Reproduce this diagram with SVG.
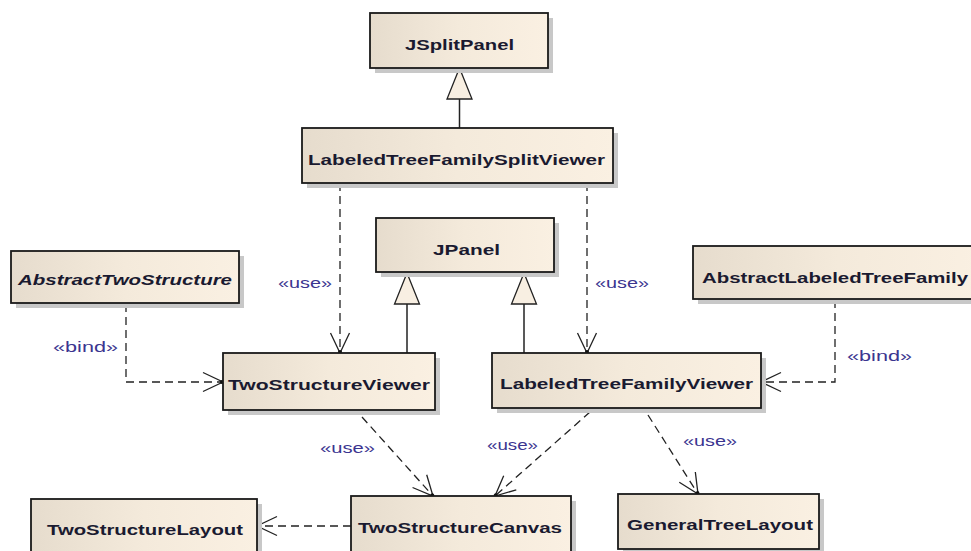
<svg xmlns="http://www.w3.org/2000/svg" width="971" height="551" viewBox="0 0 971 551">
<defs>
<linearGradient id="g" x1="0" y1="0" x2="1" y2="0">
<stop offset="0" stop-color="#e6dccd"/>
<stop offset="0.5" stop-color="#f4eadb"/>
<stop offset="1" stop-color="#faf0e2"/>
</linearGradient>
<marker id="open" markerUnits="userSpaceOnUse" markerWidth="24" markerHeight="24" refX="20" refY="10" orient="auto" overflow="visible">
<path d="M0,0.5 L20,10 L0,19.5" fill="none" stroke="#222" stroke-width="1.3"/>
<circle cx="19" cy="10" r="2" fill="#111"/>
</marker>
<marker id="gen" markerUnits="userSpaceOnUse" markerWidth="34" markerHeight="28" refX="31" refY="13" orient="auto" overflow="visible">
<path d="M31,13 L0,0.5 L0,25.5 Z" fill="#f8efe2" stroke="#222" stroke-width="1.3"/>
</marker>
</defs>
<style>
.sh{fill:#c8c8c8}
.bx{fill:url(#g);stroke:#1a1a1a;stroke-width:1.8}
.t{font-family:"Liberation Sans",Arial,sans-serif;font-weight:bold;font-size:14px;fill:#1a1a30;text-anchor:middle}
.it{font-style:italic}
.lb{font-family:"Liberation Sans",Arial,sans-serif;font-size:14px;fill:#3b3590}
.dep{fill:none;stroke:#222;stroke-width:1.3;stroke-dasharray:8,5;marker-end:url(#open)}
.gl{fill:none;stroke:#222;stroke-width:1.5;marker-end:url(#gen)}
</style>

<g id="connectors">
<path class="gl" d="M459.5,128 L459.5,68"/>
<path class="gl" d="M407,353 L407,273"/>
<path class="gl" d="M524,353 L524,273"/>
<path class="dep" d="M340,183 L340,353"/>
<path class="dep" d="M587,183 L587,353"/>
<path class="dep" d="M126,304 L126,382 L223,382"/>
<path class="dep" d="M835,300 L835,382 L761,382"/>
<path class="dep" d="M362,417 L433,496"/>
<path class="dep" d="M590,412 L495,496"/>
<path class="dep" d="M648,415 L698,494"/>
<path class="dep" d="M351,526 L257,526"/>
<text class="lb" x="278" y="288" textLength="54" lengthAdjust="spacingAndGlyphs">«use»</text>
<text class="lb" x="595" y="288" textLength="54" lengthAdjust="spacingAndGlyphs">«use»</text>
<text class="lb" x="53" y="352" textLength="65" lengthAdjust="spacingAndGlyphs">«bind»</text>
<text class="lb" x="847" y="361" textLength="65" lengthAdjust="spacingAndGlyphs">«bind»</text>
<text class="lb" x="320" y="453" textLength="55" lengthAdjust="spacingAndGlyphs">«use»</text>
<text class="lb" x="487" y="450" textLength="51" lengthAdjust="spacingAndGlyphs">«use»</text>
<text class="lb" x="683" y="446" textLength="54" lengthAdjust="spacingAndGlyphs">«use»</text>
</g>

<g id="JSplitPanel">
<rect class="sh" x="375" y="18" width="178" height="55"/>
<rect class="bx" x="370" y="13" width="178" height="55"/>
<text class="t" x="459.5" y="50" textLength="109" lengthAdjust="spacingAndGlyphs">JSplitPanel</text>
</g>

<g id="LabeledTreeFamilySplitViewer">
<rect class="sh" x="307" y="133" width="311" height="55"/>
<rect class="bx" x="302" y="128" width="311" height="55"/>
<text class="t" x="456.5" y="165" textLength="297" lengthAdjust="spacingAndGlyphs">LabeledTreeFamilySplitViewer</text>
</g>

<g id="JPanel">
<rect class="sh" x="381" y="223" width="178" height="54"/>
<rect class="bx" x="376" y="218" width="178" height="54"/>
<text class="t" x="466.5" y="255" textLength="67" lengthAdjust="spacingAndGlyphs">JPanel</text>
</g>

<g id="AbstractTwoStructure">
<rect class="sh" x="16" y="256" width="228" height="52"/>
<rect class="bx" x="11" y="251" width="228" height="52"/>
<text class="t it" x="125" y="285" textLength="214" lengthAdjust="spacingAndGlyphs">AbstractTwoStructure</text>
</g>

<g id="AbstractLabeledTreeFamily">
<rect class="sh" x="698" y="251" width="290" height="53"/>
<rect class="bx" x="693" y="246" width="290" height="53"/>
<text class="t" x="835" y="283" textLength="266" lengthAdjust="spacingAndGlyphs">AbstractLabeledTreeFamily</text>
</g>

<g id="TwoStructureViewer">
<rect class="sh" x="228" y="358" width="212" height="57"/>
<rect class="bx" x="223" y="353" width="212" height="57"/>
<text class="t" x="329" y="390" textLength="202" lengthAdjust="spacingAndGlyphs">TwoStructureViewer</text>
</g>

<g id="LabeledTreeFamilyViewer">
<rect class="sh" x="497" y="358" width="269" height="55"/>
<rect class="bx" x="492" y="353" width="269" height="55"/>
<text class="t" x="626.5" y="389" textLength="253" lengthAdjust="spacingAndGlyphs">LabeledTreeFamilyViewer</text>
</g>

<g id="TwoStructureLayout">
<rect class="sh" x="36" y="504" width="226" height="56"/>
<rect class="bx" x="31" y="499" width="226" height="56"/>
<text class="t" x="145" y="535" textLength="196" lengthAdjust="spacingAndGlyphs">TwoStructureLayout</text>
</g>

<g id="TwoStructureCanvas">
<rect class="sh" x="356" y="501" width="220" height="56"/>
<rect class="bx" x="351" y="496" width="220" height="56"/>
<text class="t" x="460" y="533" textLength="204" lengthAdjust="spacingAndGlyphs">TwoStructureCanvas</text>
</g>

<g id="GeneralTreeLayout">
<rect class="sh" x="623" y="499" width="201" height="55"/>
<rect class="bx" x="618" y="494" width="201" height="55"/>
<text class="t" x="720" y="530" textLength="186" lengthAdjust="spacingAndGlyphs">GeneralTreeLayout</text>
</g>
</svg>
